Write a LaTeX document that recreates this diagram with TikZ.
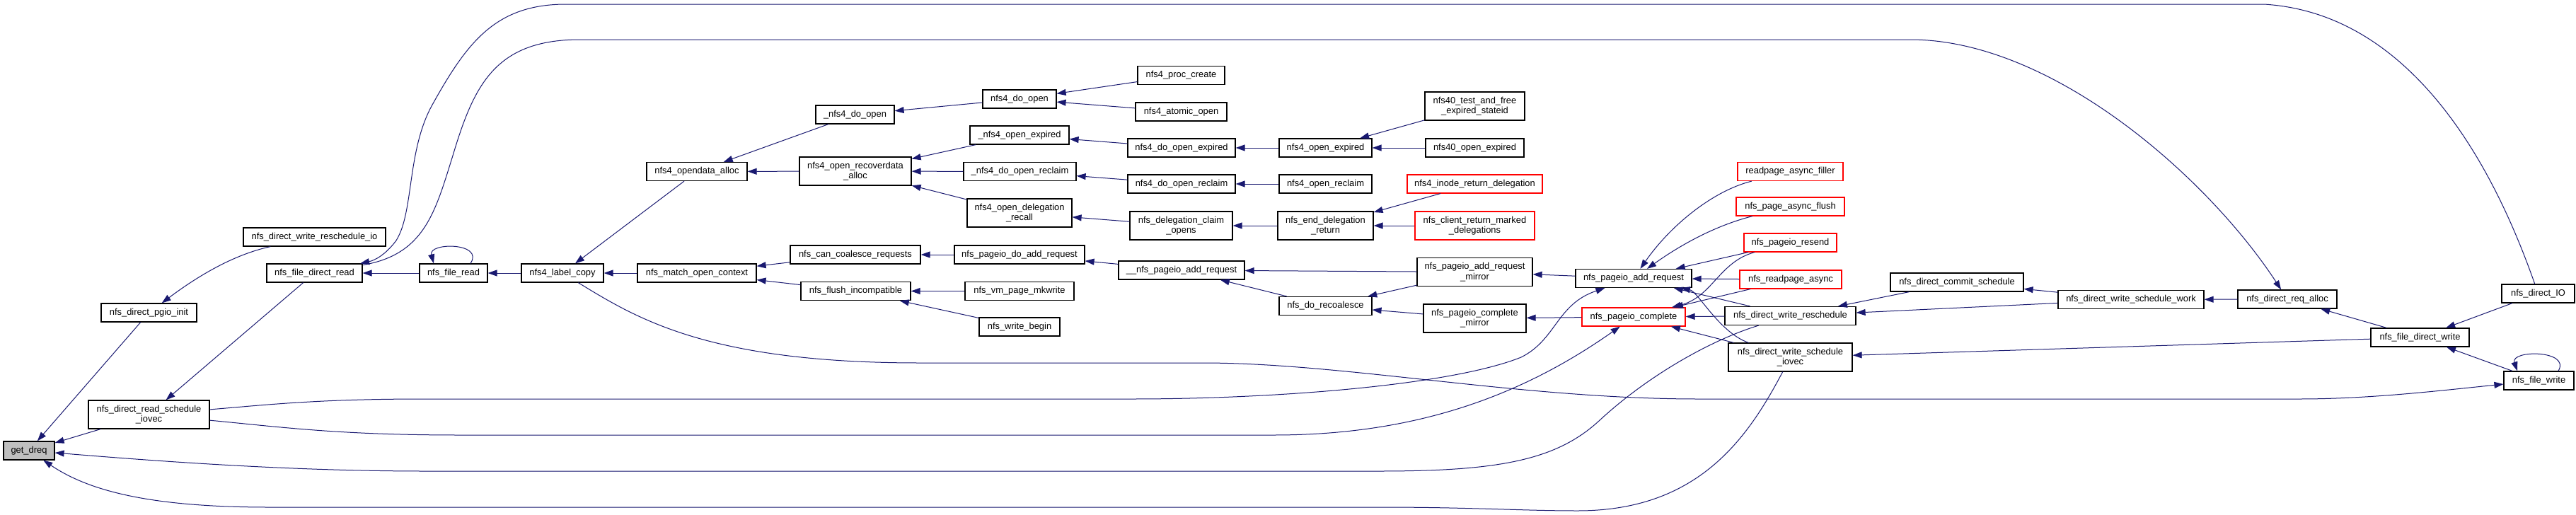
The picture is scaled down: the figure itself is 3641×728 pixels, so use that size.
\documentclass[tikz,border=0pt]{standalone}
\usepackage{fontspec}
\setmainfont{Liberation Sans}
\usetikzlibrary{arrows.meta}
\definecolor{edgeblue}{HTML}{191970}
\definecolor{maingray}{HTML}{BFBFBF}
\tikzstyle{func} = [
    rectangle,
    draw=black,
    fill=white,
    line width=1.2pt,
    minimum height=26pt,
    inner sep=0pt,
    align=center,
    font=\fontsize{12.9}{14.5}\selectfont
]
\tikzstyle{mainfunc} = [func, fill=maingray]
\tikzstyle{truncfunc} = [func, draw=red]
\tikzstyle{twoline} = [minimum height=40pt]
\tikzstyle{arrow} = [line width=1pt, draw=edgeblue, ->, >={Triangle[length=13pt,width=9pt]}]

\begin{document}
\begin{tikzpicture}[x=1pt, y=-1pt]
\useasboundingbox (0,0) rectangle (3641,728);

\node (getdreq) [mainfunc, minimum width=72pt] at (41,637) {get\_dreq};
\node (pgioinit) [func, minimum width=135pt] at (210.5,442) {nfs\_direct\_pgio\_init};
\node (readsched) [func, twoline, minimum width=171pt] at (210.5,586) {nfs\_direct\_read\_schedule\\\_iovec};
\node (reschedio) [func, minimum width=201pt] at (444.5,335) {nfs\_direct\_write\_reschedule\_io};
\node (fdread) [func, minimum width=135pt] at (444.5,386) {nfs\_file\_direct\_read};
\node (fread) [func, minimum width=96pt] at (641,386) {nfs\_file\_read};
\node (labelcopy) [func, minimum width=116pt] at (795,386) {nfs4\_label\_copy};
\node (opendata) [func, minimum width=142pt] at (985,242.5) {nfs4\_opendata\_alloc};
\node (matchctx) [func, minimum width=168pt] at (985,386) {nfs\_match\_open\_context};

\node (udoopen) [func, minimum width=111pt] at (1208.5,162) {\_nfs4\_do\_open};
\node (recover) [func, twoline, minimum width=158pt] at (1209,242) {nfs4\_open\_recoverdata\\\_alloc};
\node (coalesce) [func, minimum width=184pt] at (1209,360) {nfs\_can\_coalesce\_requests};
\node (flushinc) [func, minimum width=155pt] at (1209.5,411.5) {nfs\_flush\_incompatible};

\node (doopen) [func, minimum width=104pt] at (1441,140) {nfs4\_do\_open};
\node (uopenexp) [func, minimum width=140pt] at (1441,191) {\_nfs4\_open\_expired};
\node (udoreclaim) [func, minimum width=159pt] at (1441.5,242.5) {\_nfs4\_do\_open\_reclaim};
\node (delegrecall) [func, twoline, minimum width=148pt] at (1441,301) {nfs4\_open\_delegation\\\_recall};
\node (doaddreq) [func, minimum width=184pt] at (1441,360) {nfs\_pageio\_do\_add\_request};
\node (mkwrite) [func, minimum width=154pt] at (1441,411.5) {nfs\_vm\_page\_mkwrite};
\node (wbegin) [func, minimum width=114pt] at (1441,462) {nfs\_write\_begin};

\node (proccreate) [func, minimum width=123pt] at (1669.5,106.5) {nfs4\_proc\_create};
\node (atomicopen) [func, minimum width=129pt] at (1669.5,158) {nfs4\_atomic\_open};
\node (doopenexp) [func, minimum width=152pt] at (1670,209) {nfs4\_do\_open\_expired};
\node (doreclaim) [func, minimum width=152pt] at (1670,260) {nfs4\_do\_open\_reclaim};
\node (claimopens) [func, twoline, minimum width=145pt] at (1669.5,319) {nfs\_delegation\_claim\\\_opens};
\node (uuaddreq) [func, minimum width=178pt] at (1670,382) {\_\_nfs\_pageio\_add\_request};

\node (openexp) [func, minimum width=131pt] at (1873.5,209) {nfs4\_open\_expired};
\node (openreclaim) [func, minimum width=131pt] at (1873.5,260) {nfs4\_open\_reclaim};
\node (enddeleg) [func, twoline, minimum width=135pt] at (1873.5,319) {nfs\_end\_delegation\\\_return};
\node (recoalesce) [func, minimum width=131pt] at (1873.5,432.5) {nfs\_do\_recoalesce};

\node (testfree) [func, twoline, minimum width=141pt] at (2084.5,150) {nfs40\_test\_and\_free\\\_expired\_stateid};
\node (openexp40) [func, minimum width=139pt] at (2084.5,209) {nfs40\_open\_expired};
\node (inoderet) [truncfunc, minimum width=191pt] at (2084.5,260) {nfs4\_inode\_return\_delegation};
\node (clientret) [truncfunc, twoline, minimum width=169pt] at (2084.5,319) {nfs\_client\_return\_marked\\\_delegations};
\node (addmirror) [func, twoline, minimum width=163pt] at (2084.5,384.5) {nfs\_pageio\_add\_request\\\_mirror};
\node (compmirror) [func, twoline, minimum width=145pt] at (2084.5,450) {nfs\_pageio\_complete\\\_mirror};

\node (addreq) [func, minimum width=164pt] at (2309,393.5) {nfs\_pageio\_add\_request};
\node (complete) [truncfunc, minimum width=146pt] at (2309,448) {nfs\_pageio\_complete};

\node (rpfiller) [truncfunc, minimum width=149pt] at (2530.5,242.5) {readpage\_async\_filler};
\node (asyncflush) [truncfunc, minimum width=153pt] at (2530.5,292) {nfs\_page\_async\_flush};
\node (resend) [truncfunc, minimum width=131pt] at (2530.5,343) {nfs\_pageio\_resend};
\node (rpasync) [truncfunc, minimum width=144pt] at (2531,395) {nfs\_readpage\_async};
\node (wresched) [func, minimum width=185pt] at (2530.5,446.5) {nfs\_direct\_write\_reschedule};
\node (wschediovec) [func, twoline, minimum width=175pt] at (2530.5,505) {nfs\_direct\_write\_schedule\\\_iovec};

\node (commit) [func, minimum width=188pt] at (2766,399) {nfs\_direct\_commit\_schedule};
\node (wschedwork) [func, minimum width=206pt] at (3012,423.5) {nfs\_direct\_write\_schedule\_work};
\node (reqalloc) [func, minimum width=140pt] at (3233,423) {nfs\_direct\_req\_alloc};
\node (fdwrite) [func, minimum width=139pt] at (3420.5,477) {nfs\_file\_direct\_write};
\node (directio) [func, minimum width=103pt] at (3587.5,415) {nfs\_direct\_IO};
\node (fwrite) [func, minimum width=99pt] at (3588.5,538) {nfs\_file\_write};

\draw [arrow] (pgioinit) -- (getdreq);
\draw [arrow] (readsched) -- (getdreq);
\draw [arrow] (wresched) .. controls (2420,480) and (2330,530) .. (2260,595) .. controls (2200,650) and (2120,666) .. (1950,666) -- (600,666) .. controls (400,666) and (200,650) .. (getdreq);
\draw [arrow] (wschediovec) .. controls (2470,620) and (2400,722) .. (2230,722) .. controls (2150,722) and (2080,717) .. (1950,717) -- (380,717) .. controls (200,717) and (120,690) .. (getdreq);
\draw [arrow] (reschedio) .. controls (330,360) and (280,390) .. (pgioinit);
\draw [arrow] (fdread) -- (readsched);
\draw [arrow] (directio) .. controls (3540,280) and (3430,20) .. (3200,6) -- (800,6) .. controls (700,6) and (660,60) .. (610,150) .. controls (575,215) and (585,300) .. (560,340) .. controls (545,360) and (530,368) .. (fdread);
\draw [arrow] (fdread) .. controls (600,360) and (615,300) .. (640,220) .. controls (670,120) and (700,56) .. (820,56) -- (2700,56) .. controls (2900,56) and (3120,250) .. (reqalloc);
\draw [arrow] (fread) -- (fdread);
\draw [arrow] ([xshift=24pt]fread.north) .. controls +(20,-30) and +(-8,-30) .. ([xshift=-28pt]fread.north);
\draw [arrow] (labelcopy) -- (fread);
\draw [arrow] (opendata) -- (labelcopy);
\draw [arrow] (matchctx) -- (labelcopy);
\draw [arrow] (labelcopy) .. controls (900,450) and (1000,513) .. (1300,513) -- (1700,513) .. controls (1900,513) and (2150,564) .. (2400,564) -- (3250,564) .. controls (3350,564) and (3450,552) .. (fwrite);
\draw [arrow] (readsched) .. controls (380,572) and (450,564) .. (600,564) -- (1600,564) .. controls (1800,564) and (2050,545) .. (2150,505) .. controls (2200,480) and (2200,430) .. (addreq);
\draw [arrow] (readsched) .. controls (400,604) and (480,615) .. (650,615) -- (1800,615) .. controls (2000,615) and (2150,560) .. (complete);

\draw [arrow] (udoopen) -- (opendata);
\draw [arrow] (recover) -- (opendata);
\draw [arrow] (doopen) -- (udoopen);
\draw [arrow] (proccreate) -- (doopen);
\draw [arrow] (atomicopen) -- (doopen);
\draw [arrow] (uopenexp) -- (recover);
\draw [arrow] (udoreclaim) -- (recover);
\draw [arrow] (delegrecall) -- (recover);
\draw [arrow] (doopenexp) -- (uopenexp);
\draw [arrow] (openexp) -- (doopenexp);
\draw [arrow] (testfree) -- (openexp);
\draw [arrow] (openexp40) -- (openexp);
\draw [arrow] (doreclaim) -- (udoreclaim);
\draw [arrow] (openreclaim) -- (doreclaim);
\draw [arrow] (claimopens) -- (delegrecall);
\draw [arrow] (enddeleg) -- (claimopens);
\draw [arrow] (inoderet) -- (enddeleg);
\draw [arrow] (clientret) -- (enddeleg);
\draw [arrow] (coalesce) -- (matchctx);
\draw [arrow] (flushinc) -- (matchctx);
\draw [arrow] (doaddreq) -- (coalesce);
\draw [arrow] (mkwrite) -- (flushinc);
\draw [arrow] (wbegin) -- (flushinc);
\draw [arrow] (uuaddreq) -- (doaddreq);
\draw [arrow] (addmirror) -- (uuaddreq);
\draw [arrow] (recoalesce) -- (uuaddreq);
\draw [arrow] (addmirror) -- (recoalesce);
\draw [arrow] (compmirror) -- (recoalesce);
\draw [arrow] (addreq) -- (addmirror);
\draw [arrow] (complete) -- (compmirror);

\draw [arrow] (rpfiller) .. controls (2420,270) and (2360,320) .. (addreq);
\draw [arrow] (asyncflush) .. controls (2420,320) and (2370,350) .. (addreq);
\draw [arrow] (resend) -- (addreq);
\draw [arrow] (resend) .. controls (2430,370) and (2420,420) .. (complete);
\draw [arrow] (rpasync) -- (addreq);
\draw [arrow] (rpasync) -- (complete);
\draw [arrow] (wresched) -- (addreq);
\draw [arrow] (wresched) -- (complete);
\draw [arrow] (wschediovec) .. controls (2430,470) and (2400,412) .. (addreq);
\draw [arrow] (wschediovec) -- (complete);

\draw [arrow] (commit) -- (wresched);
\draw [arrow] (wschedwork) -- (wresched);
\draw [arrow] (wschedwork) -- (commit);
\draw [arrow] (reqalloc) -- (wschedwork);
\draw [arrow] (fdwrite) -- (reqalloc);
\draw [arrow] (fdwrite) -- (wschediovec);
\draw [arrow] (directio) -- (fdwrite);
\draw [arrow] (fwrite) -- (fdwrite);
\draw [arrow] ([xshift=27.5pt]fwrite.north) .. controls +(18,-30) and +(-10,-30) .. ([xshift=-30.5pt]fwrite.north);

\end{tikzpicture}
\end{document}
